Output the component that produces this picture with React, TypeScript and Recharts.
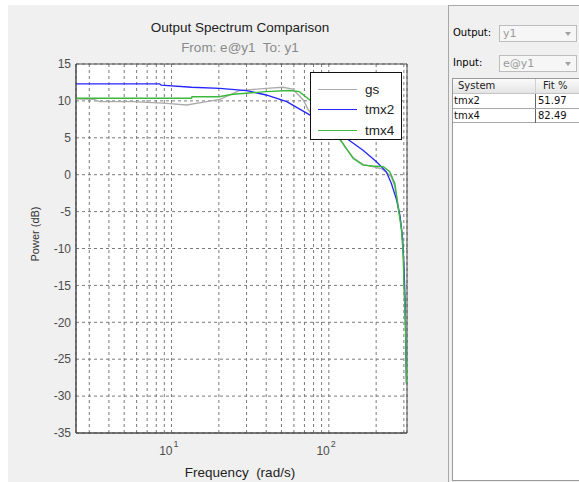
import React from 'react';
import { LineChart, Line, XAxis, YAxis, CartesianGrid, Legend, ReferenceArea } from 'recharts';

// frequency range of the plot (rad/s), right edge is the Nyquist frequency
const freqMin = 2.47;
const freqMax = 314.16;

const gsFreq = [2.47, 3.2, 3.5, 5.7, 9.3, 12.5, 16.7, 20.3, 27, 40, 51, 59, 69, 74, 85, 100, 118, 126, 143, 165, 190, 216, 236, 250, 263, 276, 284, 290, 297, 301, 307, 312];
const gsPower = [10.3, 10.2, 9.9, 9.9, 9.67, 9.44, 9.9, 10.2, 11.4, 11.7, 11.85, 11.6, 10.1, 8.8, 7.2, 6.0, 4.9, 3.8, 2.3, 1.4, 1.1, 0.8, 0.2, -0.3, -1.6, -4.2, -5.7, -7.4, -10.5, -15, -20, -28.3];

const tmx2Freq = [2.47, 8.4, 8.6, 13.4, 20.3, 30, 40, 54, 75.6, 100, 136, 165, 201, 232, 250, 270, 284, 294, 300, 305, 309, 312];
const tmx2Power = [12.3, 12.3, 12.15, 11.85, 11.7, 11.4, 10.8, 9.9, 8.1, 6.5, 4.6, 3.3, 1.75, 0.4, -1.2, -3.45, -5.7, -8.4, -12, -16.5, -23.3, -28.3];

const tmx4Freq = [2.47, 13.4, 13.5, 20, 24.6, 40, 56, 65, 76, 90, 105, 123, 143, 165, 190, 222, 244, 263, 276, 290, 297, 301, 307, 312];
const tmx4Power = [10.35, 10.35, 10.57, 10.57, 10.9, 11.25, 11.4, 11.25, 10.1, 8.0, 6.0, 4.25, 2.2, 1.3, 1.17, 1.07, 0.4, -1.2, -4.4, -7.5, -10.6, -15.2, -19.7, -28.3];

const xTicks = [3, 4, 5, 6, 7, 8, 9, 10, 20, 30, 40, 50, 60, 70, 80, 90, 100, 200, 300];
const xLabelled = [10, 100];
const yTicks = [-35, -30, -25, -20, -15, -10, -5, 0, 5, 10, 15];

const fitSystems = ['tmx2', 'tmx4'];
const fitValues = ['51.97', '82.49'];

const toPoints = (f: number[], p: number[]) => f.map((v, i) => ({ f: v, power: p[i] }));

const axisFont = '"Liberation Sans", Arial, sans-serif';
const panelFont = '"DejaVu Sans", sans-serif';
const tickColor = '#4d4d4d';

const XTick = (props: any) => {
  const { x, y, payload } = props;
  if (!xLabelled.includes(payload.value)) return <g />;
  const exp = Math.round(Math.log10(payload.value));
  return (
    <g>
      <text x={x + 1} y={y + 22} textAnchor="end" fontSize={12} fill={tickColor} fontFamily={axisFont}>10</text>
      <text x={x + 2} y={y + 14} fontSize={9} fill={tickColor} fontFamily={axisFont}>{exp}</text>
    </g>
  );
};

const renderLegend = (props: any) => {
  const items = props.payload || [];
  return (
    <div style={{ width: 92, height: 68, boxSizing: 'border-box', border: '1px solid #111', background: '#fff', paddingTop: 6 }}>
      {items.map((item: any) => (
        <div key={item.value} style={{ display: 'flex', alignItems: 'center', height: 20.5 }}>
          <div style={{ width: 39, height: 0, borderTop: `1.5px solid ${item.color}`, marginLeft: 7, marginRight: 8 }} />
          <span style={{ fontFamily: axisFont, fontSize: 13.5, color: '#222' }}>{item.value}</span>
        </div>
      ))}
    </div>
  );
};

const Dropdown = ({ top, text }: { top: number; text: string }) => (
  <div style={{ position: 'absolute', left: 499, top, width: 78, height: 17, boxSizing: 'border-box', border: '1px solid #bdbdbd', background: '#f6f6f6' }}>
    <span style={{ position: 'absolute', left: 3, top: 1, fontFamily: panelFont, fontSize: 11, color: '#9a9a9a' }}>{text}</span>
    <div style={{ position: 'absolute', left: 65, top: 6, width: 0, height: 0, borderLeft: '3.5px solid transparent', borderRight: '3.5px solid transparent', borderTop: '4px solid #a0a0a0' }} />
  </div>
);

const App: React.FC = () => {
  return (
    <div style={{ position: 'fixed', left: 0, top: 0, width: 579, height: 482, background: '#fff', overflow: 'hidden' }}>
      {/* figure background */}
      <div style={{ position: 'absolute', left: 8, top: 5, width: 440, height: 477, background: '#f0f0f0' }} />

      <div style={{ position: 'absolute', left: 140, top: 20, width: 200, textAlign: 'center', fontFamily: axisFont, fontSize: 13.5, lineHeight: '16px', color: '#222' }}>
        Output Spectrum Comparison
      </div>
      <div style={{ position: 'absolute', left: 140, top: 39.5, width: 200, textAlign: 'center', fontFamily: axisFont, fontSize: 13.5, lineHeight: '16px', color: '#8a8a8a', whiteSpace: 'pre' }}>
        {'From: e@y1  To: y1'}
      </div>
      <div style={{ position: 'absolute', left: 140, top: 465, width: 200, textAlign: 'center', fontFamily: axisFont, fontSize: 13.5, lineHeight: '16px', color: '#222', whiteSpace: 'pre' }}>
        {'Frequency  (rad/s)'}
      </div>
      <div style={{ position: 'absolute', left: 35, top: 234, width: 0, height: 0 }}>
        <div style={{ position: 'absolute', left: -40, top: -8, width: 80, textAlign: 'center', transform: 'rotate(-90deg)', fontFamily: axisFont, fontSize: 11, lineHeight: '16px', color: '#333' }}>
          Power (dB)
        </div>
      </div>

      <div style={{ position: 'absolute', left: 0, top: 0 }}>
        <LineChart width={420} height={482} margin={{ top: 64, right: 13, bottom: 19, left: 36 }}>
          <CartesianGrid fill="#fff" fillOpacity={1} stroke="#7a7a7a" strokeDasharray="3 3" />
          <XAxis
            dataKey="f"
            type="number"
            scale="log"
            domain={[freqMin, freqMax]}
            allowDataOverflow
            ticks={xTicks}
            interval={0}
            height={30}
            tickSize={0}
            tickMargin={0}
            tick={<XTick />}
            axisLine={{ stroke: '#4d4d4d' }}
          />
          <YAxis
            type="number"
            domain={[-35, 15]}
            ticks={yTicks}
            interval={0}
            width={40}
            tickSize={0}
            tickMargin={5}
            tick={{ fill: tickColor, fontSize: 12, fontFamily: axisFont }}
            axisLine={{ stroke: '#4d4d4d' }}
          />
          <ReferenceArea x1={freqMin} x2={freqMax} y1={-35} y2={15} fill="none" stroke="#4d4d4d" strokeOpacity={1} />
          <Line data={toPoints(gsFreq, gsPower)} dataKey="power" name="gs" stroke="#ababab" strokeWidth={1.4} dot={false} isAnimationActive={false} />
          <Line data={toPoints(tmx2Freq, tmx2Power)} dataKey="power" name="tmx2" stroke="#2424ff" strokeWidth={1.3} dot={false} isAnimationActive={false} />
          <Line data={toPoints(tmx4Freq, tmx4Power)} dataKey="power" name="tmx4" stroke="#3cb83c" strokeWidth={1.4} dot={false} isAnimationActive={false} />
          <Legend
            content={renderLegend}
            layout="vertical"
            align="center"
            verticalAlign="middle"
            wrapperStyle={{ left: 310, top: 72, width: 92, height: 68 }}
          />
        </LineChart>
      </div>

      {/* right hand panel */}
      <div style={{ position: 'absolute', left: 448, top: 5, width: 131, height: 477, boxSizing: 'border-box', background: '#f0f0f0', borderLeft: '1px solid #a8a8a8', borderTop: '1px solid #a8a8a8' }} />
      <div style={{ position: 'absolute', left: 453, top: 27, fontFamily: panelFont, fontSize: 10, lineHeight: '12px', color: '#000' }}>Output:</div>
      <Dropdown top={25} text="y1" />
      <div style={{ position: 'absolute', left: 453, top: 57, fontFamily: panelFont, fontSize: 10, lineHeight: '12px', color: '#000' }}>Input:</div>
      <Dropdown top={55} text="e@y1" />

      <div style={{ position: 'absolute', left: 452, top: 78, width: 130, height: 403, boxSizing: 'border-box', border: '1px solid #9a9a9a', background: '#fff' }}>
        <div style={{ position: 'relative', height: 15, boxSizing: 'border-box', background: 'linear-gradient(#fbfbfb, #e4e4e4)', borderBottom: '1px solid #c4c4c4', fontFamily: panelFont, fontSize: 10, lineHeight: '14px' }}>
          <span style={{ position: 'absolute', left: 5, color: '#222' }}>System</span>
          <div style={{ position: 'absolute', left: 82, top: 0, width: 1, height: 14, background: '#d0d0d0' }} />
          <span style={{ position: 'absolute', left: 90, color: '#222' }}>Fit %</span>
        </div>
        {fitSystems.map((name, i) => (
          <div key={name} style={{ position: 'relative', height: 14.5, boxSizing: 'border-box', borderBottom: '1px solid #a8a8a8', fontFamily: panelFont, fontSize: 10, lineHeight: '13px' }}>
            <span style={{ position: 'absolute', left: 1, color: '#111' }}>{name}</span>
            <div style={{ position: 'absolute', left: 82, top: 0, width: 1, height: 14, background: '#666' }} />
            <span style={{ position: 'absolute', left: 85, color: '#111' }}>{fitValues[i]}</span>
          </div>
        ))}
      </div>
    </div>
  );
};

export default App;
